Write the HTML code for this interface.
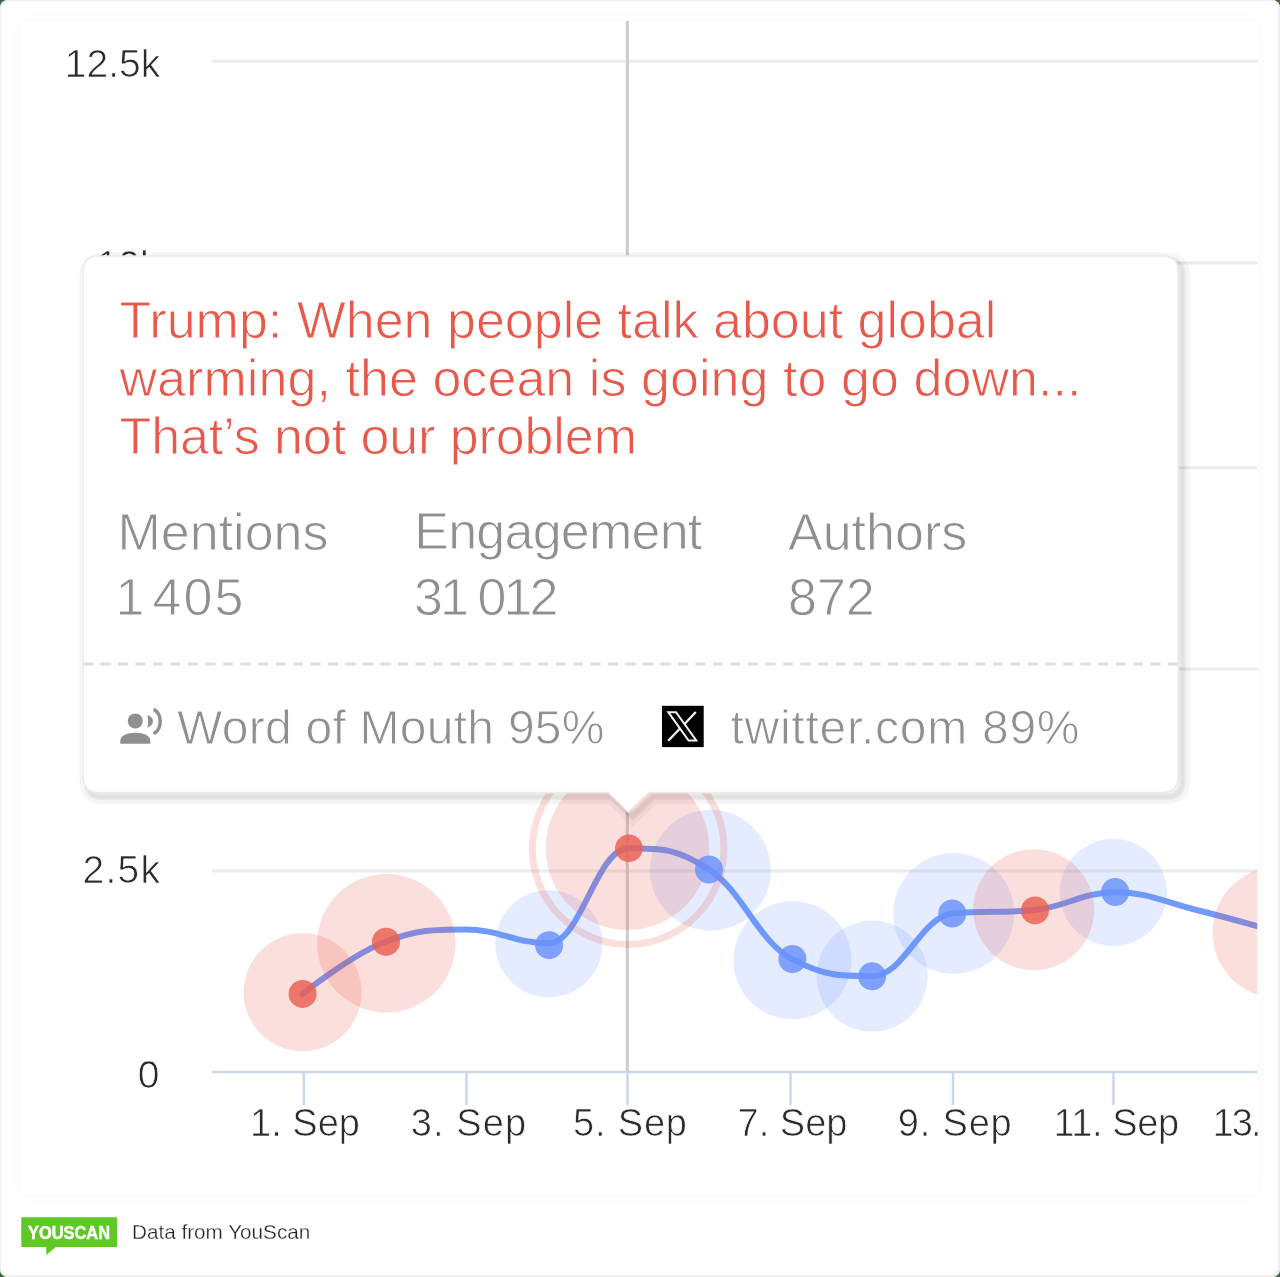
<!DOCTYPE html>
<html><head><meta charset="utf-8">
<style>
html,body{margin:0;padding:0;}
body{width:1280px;height:1277px;overflow:hidden;background:#3d6b42;position:relative;font-family:"Liberation Sans",sans-serif;}
#frame{position:absolute;left:0;top:0;width:1280px;height:1277px;background:#fff;border-radius:8px;box-shadow:inset -2px -2px 0 #efefef, inset 1px 1px 0 #efefef;overflow:hidden}
#card{position:absolute;left:21px;top:21px;width:1236.5px;height:1174px;background:#fff;box-shadow:0 0 14px rgba(0,0,0,0.035)}
svg{position:absolute;left:0;top:0;will-change:transform;}
text{font-family:"Liberation Sans",sans-serif;}
</style></head>
<body>
<div id="frame">
<div id="card"></div>
<svg width="1280" height="1277" viewBox="0 0 1280 1277">
  <defs>
    <clipPath id="cc"><rect x="21" y="21" width="1236.5" height="1174"/></clipPath>
    <clipPath id="plot"><rect x="212" y="21" width="1045.5" height="1051"/></clipPath>
  </defs>
  <g clip-path="url(#cc)">
    <g stroke="#ececec" stroke-width="3">
      <line x1="212" y1="61.25" x2="1257.5" y2="61.25"/>
      <line x1="212" y1="263" x2="1257.5" y2="263"/>
      <line x1="212" y1="467.8" x2="1257.5" y2="467.8"/>
      <line x1="212" y1="669" x2="1257.5" y2="669"/>
      <line x1="212" y1="870.9" x2="1257.5" y2="870.9"/>
    </g>
    <line x1="627.3" y1="21" x2="627.3" y2="1072" stroke="#cccccc" stroke-width="3"/>
    <g font-size="39" fill="#2b2b2b" text-anchor="end" stroke="#fff" stroke-width="0.7">
      <text x="160.2" y="77">12.5k</text>
      <text x="159.5" y="278">10k</text>
      <text x="160" y="883" textLength="77.5" lengthAdjust="spacing">2.5k</text>
      <text x="159.5" y="1087.5">0</text>
    </g>
    <g clip-path="url(#plot)">
      <path d="M 302.60 993.90 C 302.60 993.90 352.34 954.10 385.50 941.75 C 417.50 929.40 433.50 929.40 465.50 929.40 C 498.82 929.40 515.48 943.30 548.80 943.30 C 580.68 943.30 596.62 848.20 628.50 848.20 C 660.70 848.20 676.80 848.20 709.00 869.50 C 742.28 890.80 758.92 942.20 792.20 959.20 C 824.12 976.20 840.08 976.20 872.00 976.20 C 904.24 976.20 920.36 917.00 952.60 913.50 C 985.40 910.00 1001.80 913.50 1034.60 910.00 C 1066.84 906.50 1082.96 892.20 1115.20 892.20 C 1147.72 892.20 1163.98 902.04 1196.50 910.00 C 1229.02 917.96 1277.80 932.00 1277.80 932.00" fill="none" stroke="#709afc" stroke-width="6" stroke-linecap="round" stroke-linejoin="round"/>
      <g fill-opacity="0.175">
        <circle cx="548.9" cy="943.8" r="53.6" fill="#6a94ff"/>
        <circle cx="710.5" cy="870.2" r="60.5" fill="#6a94ff"/>
        <circle cx="792.4" cy="960.3" r="59" fill="#6a94ff"/>
        <circle cx="872.1" cy="976.1" r="55.5" fill="#6a94ff"/>
        <circle cx="953.7" cy="913.4" r="60.5" fill="#6a94ff"/>
        <circle cx="1113.3" cy="892.4" r="53.6" fill="#6a94ff"/>
        <circle cx="302.6" cy="992.3" r="59" fill="#e84937"/>
        <circle cx="386.3" cy="943.3" r="69.2" fill="#e84937"/>
        <circle cx="627.5" cy="848.2" r="81.8" fill="#e84937"/>
        <circle cx="1033.7" cy="909.7" r="60.5" fill="#e84937"/>
        <circle cx="1278.4" cy="932.3" r="65.9" fill="#e84937"/>
      </g>
      <circle cx="628.2" cy="848.6" r="95.8" fill="none" stroke="#e84937" stroke-opacity="0.175" stroke-width="7"/>
      <g fill-opacity="0.82">
        <circle cx="302.6" cy="993.9" r="14" fill="#ea5e52"/>
        <circle cx="386" cy="941.75" r="14" fill="#ea5e52"/>
        <circle cx="549.1" cy="945.2" r="14" fill="#6991fa"/>
        <circle cx="628.9" cy="848.2" r="13.8" fill="#ea5e52"/>
        <circle cx="709" cy="869.5" r="14" fill="#6991fa"/>
        <circle cx="792.4" cy="959" r="14" fill="#6991fa"/>
        <circle cx="872.1" cy="976.3" r="14" fill="#6991fa"/>
        <circle cx="952.3" cy="913.5" r="14" fill="#6991fa"/>
        <circle cx="1035" cy="910.4" r="14" fill="#ea5e52"/>
        <circle cx="1115.2" cy="892" r="14" fill="#6991fa"/>
      </g>
    </g>
    <line x1="212" y1="1072" x2="1257.5" y2="1072" stroke="#ccd6eb" stroke-width="2.5"/>
    <g stroke="#ccd6eb" stroke-width="2.5">
      <line x1="303.8" y1="1072" x2="303.8" y2="1105"/>
      <line x1="466.5" y1="1072" x2="466.5" y2="1105"/>
      <line x1="627.5" y1="1072" x2="627.5" y2="1105"/>
      <line x1="790.5" y1="1072" x2="790.5" y2="1105"/>
      <line x1="953" y1="1072" x2="953" y2="1105"/>
      <line x1="1113.5" y1="1072" x2="1113.5" y2="1105"/>
    </g>
    <g font-size="38" fill="#2b2b2b" text-anchor="middle" stroke="#fff" stroke-width="0.7">
      <text x="305" y="1136">1. Sep</text>
      <text x="468.4" y="1136" textLength="115.5" lengthAdjust="spacing">3. Sep</text>
      <text x="630" y="1136" textLength="114" lengthAdjust="spacing">5. Sep</text>
      <text x="792.5" y="1136">7. Sep</text>
      <text x="954.75" y="1136" textLength="114" lengthAdjust="spacing">9. Sep</text>
      <text x="1116.25" y="1136" textLength="125.7" lengthAdjust="spacing">11. Sep</text>
      <text x="1272.5" y="1136" textLength="120" lengthAdjust="spacing">13. Sep</text>
    </g>
  </g>
  <g>
    <g fill="none" stroke="#000" transform="translate(4.15,4.15)">
      <path d="M 99 256 L 1162.2 256 Q 1178.2 256 1178.2 272 L 1178.2 776.5 Q 1178.2 792.5 1162.2 792.5 L 648.8 792.5 L 628.4 812.1 L 608.0 792.5 L 99 792.5 Q 83 792.5 83 776.5 L 83 272 Q 83 256 99 256 Z" stroke-width="15.3" stroke-opacity="0.04"/>
      <path d="M 99 256 L 1162.2 256 Q 1178.2 256 1178.2 272 L 1178.2 776.5 Q 1178.2 792.5 1162.2 792.5 L 648.8 792.5 L 628.4 812.1 L 608.0 792.5 L 99 792.5 Q 83 792.5 83 776.5 L 83 272 Q 83 256 99 256 Z" stroke-width="7.1" stroke-opacity="0.052"/>
      <path d="M 99 256 L 1162.2 256 Q 1178.2 256 1178.2 272 L 1178.2 776.5 Q 1178.2 792.5 1162.2 792.5 L 648.8 792.5 L 628.4 812.1 L 608.0 792.5 L 99 792.5 Q 83 792.5 83 776.5 L 83 272 Q 83 256 99 256 Z" stroke-width="4.0" stroke-opacity="0.033"/>
    </g>
    <path d="M 99 256 L 1162.2 256 Q 1178.2 256 1178.2 272 L 1178.2 776.5 Q 1178.2 792.5 1162.2 792.5 L 648.8 792.5 L 628.4 812.1 L 608.0 792.5 L 99 792.5 Q 83 792.5 83 776.5 L 83 272 Q 83 256 99 256 Z" fill="#fff" stroke="#ebebeb" stroke-width="1.5"/>
    <g font-size="52" fill="#e8584b" stroke="#fff" stroke-width="0.9">
      <text x="119.5" y="337.5">Trump: When people talk about global</text>
      <text x="119.5" y="396" textLength="962" lengthAdjust="spacing">warming, the ocean is going to go down...</text>
      <text x="119.5" y="454" textLength="517.5" lengthAdjust="spacing">That’s not our problem</text>
    </g>
    <g font-size="52" fill="#8f8f8f" stroke="#fff" stroke-width="0.9">
      <text x="117.5" y="549.5">Mentions</text>
      <text x="414.3" y="549.2" textLength="288" lengthAdjust="spacing">Engagement</text>
      <text x="788" y="549.5">Authors</text>
      <text x="115.5" y="615">1</text><text x="152.5" y="615" textLength="91" lengthAdjust="spacing">405</text>
      <text x="414" y="615" textLength="144.5" lengthAdjust="spacing">31 012</text>
      <text x="788" y="615">872</text>
    </g>
    <line x1="83" y1="664" x2="1178" y2="664" stroke="#dedede" stroke-width="3" stroke-dasharray="10 7.5"/>
    <g fill="#8f8f8f">
      <circle cx="135.3" cy="720.9" r="7.5"/>
      <path d="M 120.3 743.8 L 120.3 741 C 120.3 735.5 127 732.8 135.3 732.8 C 143.6 732.8 150.3 735.5 150.3 741 L 150.3 743.8 Z"/>
      <path d="M 147.2 715 C 151 716 153 718.5 153 721.3 C 153 724 151 726.5 147.2 727.7 C 148.4 725 148.4 717.7 147.2 715 Z"/>
    </g>
    <path d="M 154.8 710 C 162 715 162 728 154.8 733" fill="none" stroke="#8f8f8f" stroke-width="3.4" stroke-linecap="round"/>
    <g font-size="48" fill="#8f8f8f" stroke="#fff" stroke-width="0.9">
      <text x="177" y="744" textLength="427.5" lengthAdjust="spacing">Word of Mouth 95%</text>
      <text x="730.5" y="744" textLength="349" lengthAdjust="spacing">twitter.com 89%</text>
    </g>
    <rect x="662" y="705.8" width="41.7" height="41.3" fill="#000"/>
    <g fill="none" stroke="#f4f4f4" stroke-width="2">
      <path d="M 668.3 712.2 L 676 712.2 L 696.3 740.5 L 688.6 740.5 Z" stroke-linejoin="miter"/>
      <path d="M 695.8 712 L 684.3 724.2 M 680.2 728.3 L 668.2 740.8" stroke-width="2.3"/>
    </g>
  </g>
</svg>
<svg width="1280" height="1277" viewBox="0 0 1280 1277">
  <path d="M 21.3 1217.3 L 117 1217.3 L 117 1247 L 56 1247 L 46.3 1255 L 46.3 1247 L 21.3 1247 Z" fill="#5ec824"/>
  <text x="28" y="1238.6" font-size="18.5" font-weight="bold" fill="#fff" stroke="#fff" stroke-width="0.5" textLength="82" lengthAdjust="spacingAndGlyphs">YOUSCAN</text>
  <text x="132" y="1238.8" font-size="20.7" fill="#222" stroke="#fff" stroke-width="0.3">Data from YouScan</text>
</svg>
</div>
</body></html>
